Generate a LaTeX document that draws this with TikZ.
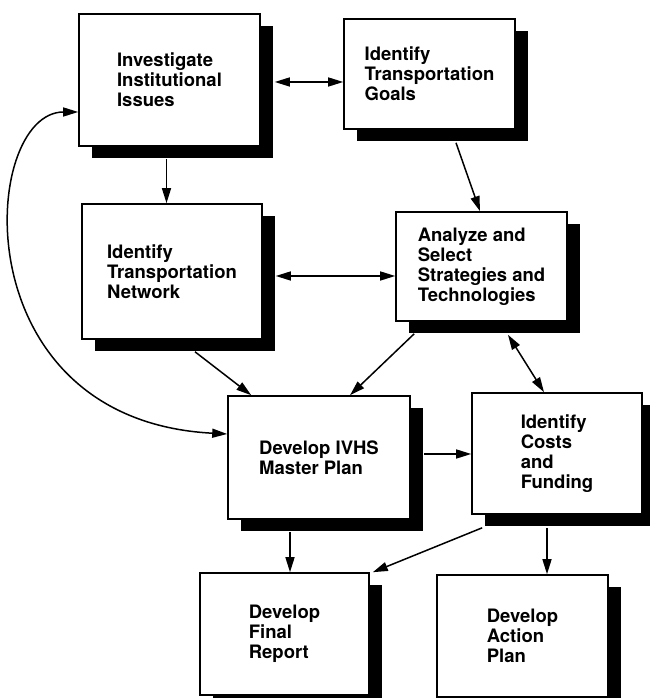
\documentclass[tikz,border=0pt]{standalone}
\usepackage{fontspec}
\setmainfont{TeX Gyre Heros}
\usetikzlibrary{arrows.meta,shadows}
\begin{document}
\begin{tikzpicture}[x=1pt,y=1pt,
    task/.style={draw,line width=1.6pt,fill=white,align=left,
      font=\fontsize{18.5}{20}\selectfont\bfseries,
      drop shadow={shadow xshift=13pt,shadow yshift=-12pt,fill=black,opacity=1}},
    tip/.tip={Triangle[length=15pt,width=9pt]},
    link/.style={line width=1.5pt,-tip},
    both/.style={line width=1.5pt,tip-tip}]
  \useasboundingbox (0,0) rectangle (649,698);
  \draw
    (169.5,618) node[task,minimum width=181pt,minimum height=132pt] (issues){Investigate\\Institutional\\Issues}
    (429.5,624) node[task,minimum width=171pt,minimum height=110pt] (goals){Identify\\Transportation\\Goals}
    (172,426.5) node[task,minimum width=180pt,minimum height=135pt] (network){Identify\\Transportation\\Network}
    (481.5,431.5) node[task,minimum width=171pt,minimum height=109pt] (strategies){Analyze and\\Select\\Strategies and\\Technologies}
    (319,240.5) node[task,minimum width=182pt,minimum height=123pt] (master){Develop IVHS\\Master Plan}
    (557,244.5) node[task,minimum width=170pt,minimum height=121pt] (costs){Identify\\Costs\\and\\Funding}
    (284.5,64) node[task,minimum width=169pt,minimum height=122pt] (report){Develop\\Final\\Report}
    (522.5,62) node[task,minimum width=171pt,minimum height=122pt] (action){Develop\\Action\\Plan};
  \begin{scope}[link]
    \draw[both] ([xshift=14pt,yshift=-2pt]issues.east) to ([yshift=-2pt]issues.east -| goals.west);
    \draw ([xshift=-3pt,yshift=-12pt]issues.south) to ([xshift=-3pt]issues.south |- network.north);
    \draw ([xshift=26.5pt,yshift=-13pt]goals.south) to ([xshift=-1.5pt]strategies.north);
    \draw[both] ([xshift=13pt,yshift=-4.5pt]network.east) to ([yshift=-4.5pt]network.east -| strategies.west);
    \draw ([xshift=23pt,yshift=-12pt]network.south) to ([xshift=24pt]master.north west);
    \draw ([xshift=19pt,yshift=-12pt]strategies.south west) to ([xshift=31pt]master.north);
    \draw[both] ([xshift=26.5pt,yshift=-13pt]strategies.south) to ([xshift=-13pt]costs.north);
    \draw[both] ([yshift=-32pt]issues.west) .. controls (-20,586) and (-40,278) .. ([yshift=23.5pt]master.west);
    \draw ([xshift=13pt,yshift=3.5pt]master.east) to ([yshift=3.5pt]master.east -| costs.west);
    \draw ([xshift=-29pt,yshift=-12pt]master.south) to ([xshift=-29pt]master.south |- report.north);
    \draw ([xshift=11pt,yshift=-13pt]costs.south west) to ([xshift=3pt]report.north east);
    \draw ([xshift=-10pt,yshift=-13pt]costs.south) to ([xshift=-10pt]costs.south |- action.north);
  \end{scope}
\end{tikzpicture}
\end{document}
